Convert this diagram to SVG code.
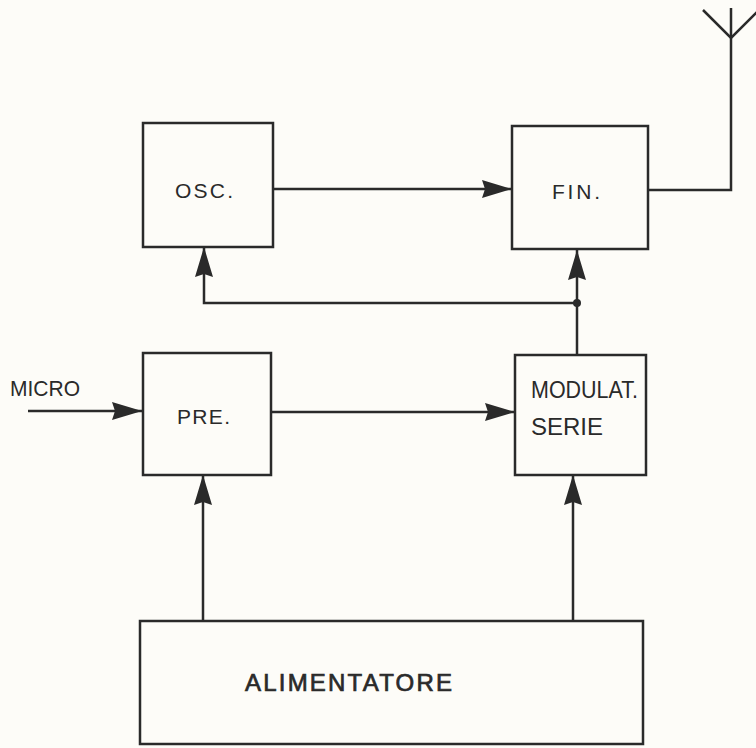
<svg xmlns="http://www.w3.org/2000/svg" width="756" height="748" viewBox="0 0 756 748">
<style>
.box{fill:none;stroke:#2a2a2a;stroke-width:2.5}
.ln{fill:none;stroke:#2a2a2a;stroke-width:2.5}
.t{font-family:"Liberation Sans",Arial,sans-serif;fill:#2a2a2a}
</style>
<defs>
<marker id="ah" viewBox="0 0 30 20" refX="30" refY="10" markerWidth="30" markerHeight="20" markerUnits="userSpaceOnUse" orient="auto">
<path d="M0,1 L30,10 L0,19 L3,10 Z" fill="#2a2a2a"/>
</marker>
</defs>
<rect width="756" height="748" fill="#fdfcf8"/>
<g id="connectors">
<line class="ln" x1="273" y1="189" x2="512" y2="189" marker-end="url(#ah)"/>
<line class="ln" x1="28" y1="411" x2="142" y2="411" marker-end="url(#ah)"/>
<line class="ln" x1="272" y1="412" x2="515" y2="412" marker-end="url(#ah)"/>
<line class="ln" x1="203" y1="621" x2="203" y2="475" marker-end="url(#ah)"/>
<line class="ln" x1="573" y1="621" x2="573" y2="475" marker-end="url(#ah)"/>
<line class="ln" x1="577" y1="355" x2="577" y2="250" marker-end="url(#ah)"/>
<polyline class="ln" points="577,303 204,303 204,247" marker-end="url(#ah)"/>
<circle cx="577" cy="303" r="4" fill="#2a2a2a"/>
<polyline class="ln" points="648,190 731,190 731,8"/>
<polyline class="ln" points="703,10 731,38 757,12"/>
</g>
<g id="osc">
<rect class="box" x="143" y="123" width="130" height="124"/>
<text class="t" x="175" y="198" font-size="21" textLength="58" lengthAdjust="spacing">OSC.</text>
</g>
<g id="fin">
<rect class="box" x="512" y="126" width="136" height="123"/>
<text class="t" x="552" y="199" font-size="21" textLength="48" lengthAdjust="spacing">FIN.</text>
</g>
<g id="micro">
<text class="t" x="10" y="396" font-size="22" textLength="70" lengthAdjust="spacingAndGlyphs">MICRO</text>
</g>
<g id="pre">
<rect class="box" x="143" y="353" width="128" height="122"/>
<text class="t" x="177" y="424" font-size="21" textLength="53" lengthAdjust="spacing">PRE.</text>
</g>
<g id="modulat">
<rect class="box" x="515" y="355" width="131" height="120"/>
<text class="t" x="531" y="398" font-size="24" textLength="107" lengthAdjust="spacingAndGlyphs">MODULAT.</text>
<text class="t" x="531" y="435" font-size="24" textLength="72" lengthAdjust="spacing">SERIE</text>
</g>
<g id="alimentatore">
<rect class="box" x="140" y="621" width="503" height="123"/>
<text class="t" x="245" y="691" font-size="24" stroke="#2a2a2a" stroke-width="0.7" textLength="207" lengthAdjust="spacing">ALIMENTATORE</text>
</g>
</svg>
